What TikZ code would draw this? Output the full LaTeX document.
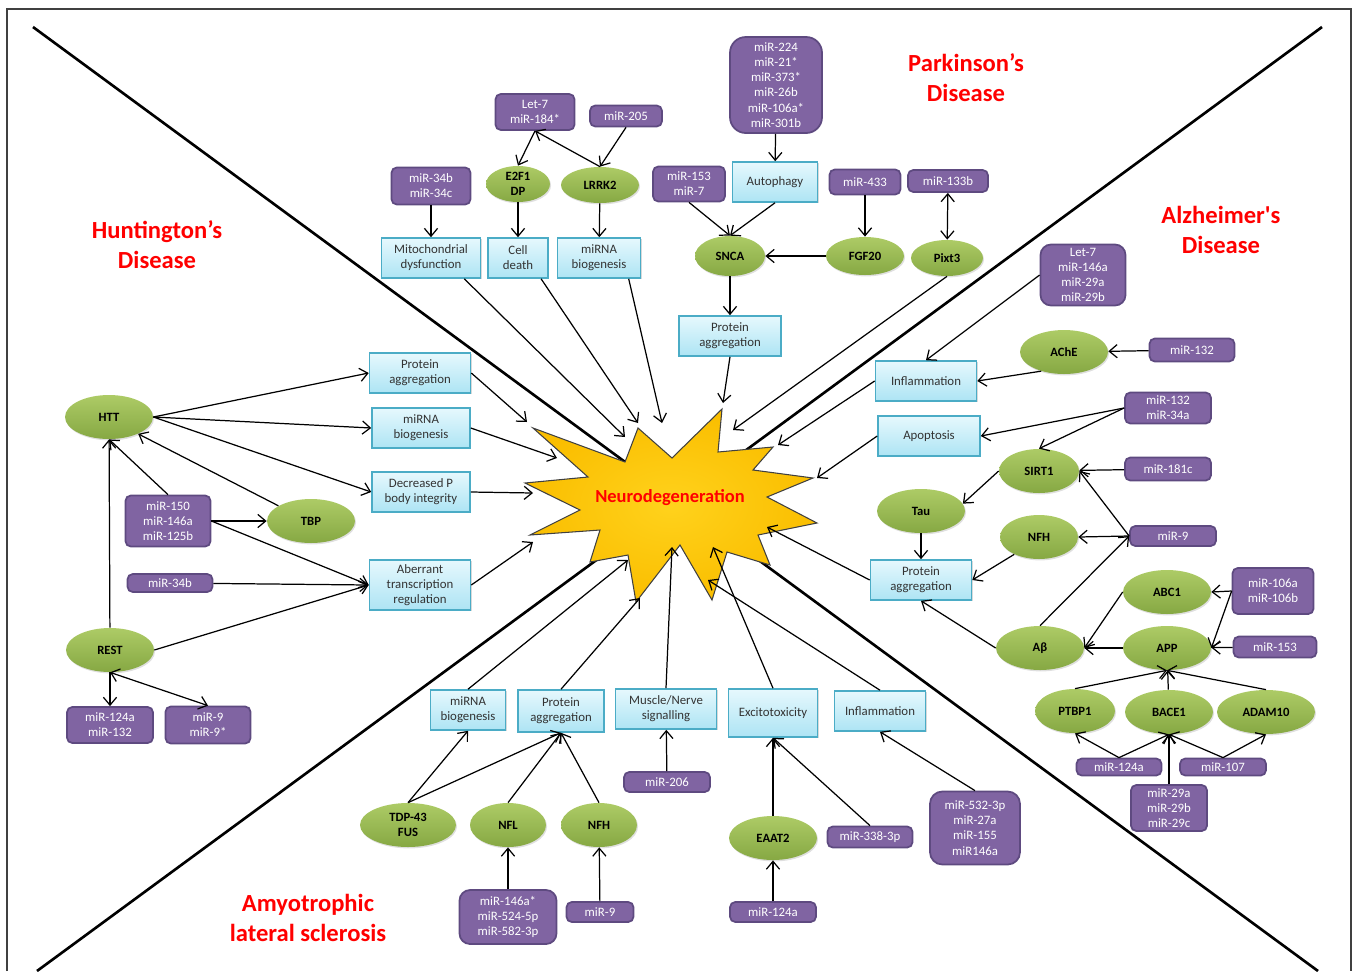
\documentclass[tikz,border=0pt]{standalone}
\usepackage{fontspec}
\setmainfont{Carlito}
\usetikzlibrary{arrows.meta,shapes.geometric,shadows}

\definecolor{mirfill}{HTML}{8064A2}
\definecolor{mirline}{HTML}{5E4A80}
\definecolor{genetop}{HTML}{ADCB66}
\definecolor{genebot}{HTML}{86A843}
\definecolor{proctop}{HTML}{E6F8FD}
\definecolor{procbot}{HTML}{ADE4F4}
\definecolor{procline}{HTML}{4BACC6}
\definecolor{starin}{HTML}{FFD21C}
\definecolor{starout}{HTML}{FABE00}
\definecolor{disred}{HTML}{FF0000}

\begin{document}
\begin{tikzpicture}[x=0.02cm,y=-0.02cm,>={Straight Barb[length=4.5pt,width=7.5pt]},
    sz/.style 2 args={minimum width=#1*0.02cm,minimum height=#2*0.02cm},
    mir/.style={rectangle,rounded corners=3pt,fill=mirfill,draw=mirline,line width=1pt,
      text=white,align=center,inner sep=1pt,font=\fontsize{7.3}{8.6}\selectfont},
    gene/.style={ellipse,inner sep=0pt,top color=genetop,bottom color=genebot,
      drop shadow={opacity=.25,shadow xshift=.6pt,shadow yshift=-.8pt},
      align=center,font=\fontsize{7.2}{8.6}\selectfont\bfseries},
    proc/.style={rectangle,top color=proctop,bottom color=procbot,draw=procline,line width=.9pt,
      drop shadow={opacity=.3,shadow xshift=.8pt,shadow yshift=-.8pt},
      text=black!80,align=center,inner sep=1pt,font=\fontsize{7.3}{8.6}\selectfont},
    dis/.style={text=disred,align=center,font=\fontsize{14}{17}\selectfont\bfseries}]
\useasboundingbox (0,0) rectangle (1356,971);
\draw[black!75,line width=.8pt] (7,971) -- (7,9) -- (1351,9) -- (1351,971);
\draw[line width=1.5pt] (33,27) -- (1318,971);
\draw[line width=1.5pt] (1322,27) -- (37,971);

% the star
\draw[black!75,line width=.6pt,inner color=starin,outer color=starout]
  (533,428) -- (625,462) -- (638,428) -- (672,458) -- (722,409) -- (718,452)
  -- (773,447) -- (753,470) -- (813,478) -- (767,497) -- (817,523) -- (758,535)
  -- (770,565) -- (727,552) -- (712,600) -- (680,545) -- (636,602) -- (628,555)
  -- (590,562) -- (600,530) -- (530,535) -- (580,510) -- (525,483) -- (588,477) -- cycle;
\node[text=disred,font=\fontsize{10.5}{12}\selectfont\bfseries] (nd) at (670,498) {Neurodegeneration};

\node[dis] (pd) at (966,78) {Parkinson’s\\Disease};
\node[dis] (ad) at (1221,230) {Alzheimer\textquotesingle s\\Disease};
\node[dis] (hd) at (157,245) {Huntington’s\\Disease};
\node[dis] (als) at (308,918) {Amyotrophic\\lateral sclerosis};

% Parkinson's
\node[mir,sz={79}{36}] (let7p) at (535,112) {Let-7\\miR-184*};
\node[mir,sz={72}{21}] (m205) at (626,116) {miR-205};
\node[mir,sz={79}{37}] (m34bc) at (431,186) {miR-34b\\miR-34c};
\node[gene,sz={64}{36}] (e2f1) at (518,184) {E2F1\\DP};
\node[gene,sz={78}{36}] (lrrk2) at (600,185) {LRRK2};
\node[proc,sz={99}{40}] (mito) at (431,258) {Mitochondrial\\dysfunction};
\node[proc,sz={60}{40}] (death) at (518,258) {Cell\\death};
\node[proc,sz={83}{40}] (biop) at (599,258) {miRNA\\biogenesis};
\node[mir,sz={92}{96},rounded corners=9pt] (m224) at (776,85) {miR-224\\miR-21*\\miR-373*\\miR-26b\\miR-106a*\\miR-301b};
\node[proc,sz={85}{40}] (autoph) at (775,182) {Autophagy};
\node[mir,sz={72}{35}] (m153p) at (689,184) {miR-153\\miR-7};
\node[mir,sz={71}{25}] (m433) at (865,182) {miR-433};
\node[mir,sz={80}{22}] (m133b) at (948,181) {miR-133b};
\node[gene,sz={70}{40}] (snca) at (730,256) {SNCA};
\node[gene,sz={78}{38}] (fgf20) at (865,256) {FGF20};
\node[gene,sz={72}{36}] (pixt3) at (947,258) {Pixt3};
\node[proc,sz={102}{40}] (aggp) at (730,336) {Protein\\aggregation};

% Alzheimer's
\node[mir,sz={85}{61},rounded corners=6pt] (let7a) at (1083,275) {Let-7\\miR-146a\\miR-29a\\miR-29b};
\node[gene,sz={88}{44}] (ache) at (1064,352) {AChE};
\node[mir,sz={85}{23}] (m132a) at (1192,350) {miR-132};
\node[proc,sz={101}{40}] (inflama) at (926,381) {Inflammation};
\node[proc,sz={102}{40}] (apopt) at (929,436) {Apoptosis};
\node[mir,sz={86}{31}] (m132b) at (1168,408) {miR-132\\miR-34a};
\node[gene,sz={80}{44}] (sirt1) at (1039,471) {SIRT1};
\node[mir,sz={86}{23}] (m181c) at (1168,469) {miR-181c};
\node[gene,sz={88}{44}] (tau) at (921,511) {Tau};
\node[gene,sz={78}{44}] (nfha) at (1039,537) {NFH};
\node[mir,sz={86}{20}] (m9a) at (1173,536) {miR-9};
\node[proc,sz={101}{40}] (agga) at (921,580) {Protein\\aggregation};
\node[gene,sz={88}{44}] (abc1) at (1167,592) {ABC1};
\node[mir,sz={81}{46}] (m106) at (1273,591) {miR-106a\\miR-106b};
\node[gene,sz={88}{44}] (abeta) at (1040,648) {Aβ};
\node[gene,sz={88}{44}] (app) at (1167,648) {APP};
\node[mir,sz={83}{21}] (m153a) at (1275,647) {miR-153};
\node[gene,sz={80}{44}] (ptbp1) at (1075,711) {PTBP1};
\node[gene,sz={88}{44}] (bace1) at (1169,712) {BACE1};
\node[gene,sz={98}{44}] (adam10) at (1266,712) {ADAM10};
\node[mir,sz={85}{17}] (m124aa) at (1119,767) {miR-124a};
\node[mir,sz={86}{17}] (m107) at (1223,767) {miR-107};
\node[mir,sz={76}{46}] (m29) at (1169,808) {miR-29a\\miR-29b\\miR-29c};

% Huntington's
\node[gene,sz={88}{44}] (htt) at (109,417) {HTT};
\node[proc,sz={101}{40}] (aggh) at (420,373) {Protein\\aggregation};
\node[proc,sz={98}{40}] (bioh) at (421,428) {miRNA\\biogenesis};
\node[proc,sz={98}{40}] (pbody) at (421,492) {Decreased P\\body integrity};
\node[proc,sz={101}{50}] (aberr) at (420,585) {Aberrant\\transcription\\regulation};
\node[mir,sz={85}{51}] (m150) at (168,521) {miR-150\\miR-146a\\miR-125b};
\node[gene,sz={88}{44}] (tbp) at (311,521) {TBP};
\node[mir,sz={85}{18}] (m34bh) at (170,583) {miR-34b};
\node[gene,sz={88}{44}] (rest) at (110,650) {REST};
\node[mir,sz={86}{36}] (m124ah) at (110,725) {miR-124a\\miR-132};
\node[mir,sz={85}{37}] (m9h) at (208,725) {miR-9\\miR-9*};

% ALS
\node[proc,sz={75}{40}] (bioa) at (468,710) {miRNA\\biogenesis};
\node[proc,sz={86}{42}] (aggals) at (561,711) {Protein\\aggregation};
\node[proc,sz={101}{40}] (muscle) at (666,709) {Muscle/Nerve\\signalling};
\node[proc,sz={89}{48}] (excito) at (773,713) {Excitotoxicity};
\node[proc,sz={91}{40}] (inflals) at (880,711) {Inflammation};
\node[gene,sz={96}{44}] (tdp43) at (408,825) {TDP-43\\FUS};
\node[gene,sz={76}{44}] (nfl) at (508,825) {NFL};
\node[gene,sz={76}{44}] (nfhals) at (599,825) {NFH};
\node[mir,sz={86}{20}] (m206) at (667,782) {miR-206};
\node[gene,sz={88}{44}] (eaat2) at (773,838) {EAAT2};
\node[mir,sz={85}{21}] (m338) at (870,837) {miR-338-3p};
\node[mir,sz={90}{73},rounded corners=7pt] (m532) at (975,828) {miR-532-3p\\miR-27a\\miR-155\\miR146a};
\node[mir,sz={97}{54},rounded corners=6pt] (m146s) at (508,917) {miR-146a*\\miR-524-5p\\miR-582-3p};
\node[mir,sz={67}{20}] (m9als) at (600,912) {miR-9};
\node[mir,sz={86}{20}] (m124als) at (773,912) {miR-124a};

% where the arrows meet the star
\coordinate (s-aggh) at (527,422);
\coordinate (s-bioh) at (557,458);
\coordinate (s-pbody) at (533,493);
\coordinate (s-aberr) at (533,542);
\coordinate (s-mito) at (625,437);
\coordinate (s-death) at (638,423);
\coordinate (s-biop) at (662,423);
\coordinate (s-aggp) at (723,403);
\coordinate (s-pixt3) at (733,430);
\coordinate (s-inflama) at (778,445);
\coordinate (s-apopt) at (817,478);
\coordinate (s-agga) at (767,527);
\coordinate (s-bioa) at (628,560);
\coordinate (s-aggals) at (640,598);
\coordinate (s-muscle) at (672,547);
\coordinate (s-excito) at (713,547);
\coordinate (s-inflals) at (708,580);

\path[->,line width=.7pt]
  (m34bc) edge (mito)
  (let7p.south) edge (e2f1.north)
  (lrrk2.north) edge (let7p.south)
  (m205.south) edge (lrrk2.north)
  (e2f1) edge (death)
  (lrrk2) edge (biop)
  (m224) edge (autoph)
  (m153p.south) edge (snca.north)
  (autoph.south) edge (snca.north)
  (fgf20) edge (snca)
  (m433) edge (fgf20)
  (m133b) edge[<->] (pixt3)
  (snca) edge (aggp)
  (aggp.south) edge (s-aggp)
  (mito.-32) edge (s-mito)
  (death.-42) edge (s-death)
  (biop.-35) edge (s-biop)
  (pixt3.south) edge (s-pixt3);

\path[->,line width=.7pt]
  (let7a.west) edge (inflama.north)
  (m132a) edge (ache)
  (ache.220) edge (inflama.east)
  (m132b.west) edge (apopt.east)
  (m132b.west) edge (sirt1.north)
  (m181c) edge (sirt1)
  (sirt1.west) edge (tau.10)
  (m9a.west) edge (sirt1.east)
  (m9a.west) edge (nfha.east)
  (abeta.north) edge (m9a.west)
  (tau) edge (agga)
  (nfha.215) edge (agga.east)
  (abeta.west) edge (agga.south)
  (abc1.west) edge (abeta.east)
  (app) edge (abeta)
  (m106.west) edge (abc1.east)
  (m106.west) edge (app.east)
  (m153a) edge (app)
  (ptbp1.north) edge (app.south)
  (bace1) edge (app)
  (adam10.north) edge (app.south)
  (m124aa.north) edge (ptbp1.south)
  (m124aa.north) edge (bace1.south)
  (m29) edge (bace1)
  (m107.north) edge (bace1.south)
  (m107.north) edge (adam10.south)
  (inflama.west) edge (s-inflama)
  (apopt.west) edge (s-apopt)
  (agga.west) edge (s-agga);

\path[->,line width=.7pt]
  (htt.east) edge (aggh.west)
  (htt.east) edge (bioh.west)
  (htt.east) edge (pbody.west)
  (m150.north) edge (htt.south)
  (tbp.155) edge (htt.-30)
  (m150.east) edge (tbp.west)
  (m150.east) edge (aberr.west)
  (m34bh) edge (aberr.west)
  (rest.east) edge (aberr.west)
  (rest) edge (htt)
  (rest) edge (m124ah)
  (rest.south) edge[<->] (m9h.north)
  (aggh.east) edge (s-aggh)
  (bioh.east) edge (s-bioh)
  (pbody.east) edge (s-pbody)
  (aberr.east) edge (s-aberr);

\path[->,line width=.7pt]
  (tdp43.north) edge (bioa.south)
  (tdp43.north) edge (aggals.south)
  (nfl.north) edge (aggals.south)
  (nfhals.north) edge (aggals.south)
  (m146s) edge (nfl)
  (m9als) edge (nfhals)
  (m206) edge (muscle)
  (eaat2) edge (excito)
  (m338.north) edge (excito.south)
  (m124als) edge (eaat2)
  (m532.north) edge (inflals.south)
  (bioa.north) edge (s-bioa)
  (aggals.north) edge (s-aggals)
  (muscle.north) edge (s-muscle)
  (excito.north) edge (s-excito)
  (inflals.north) edge (s-inflals);
\end{tikzpicture}
\end{document}
